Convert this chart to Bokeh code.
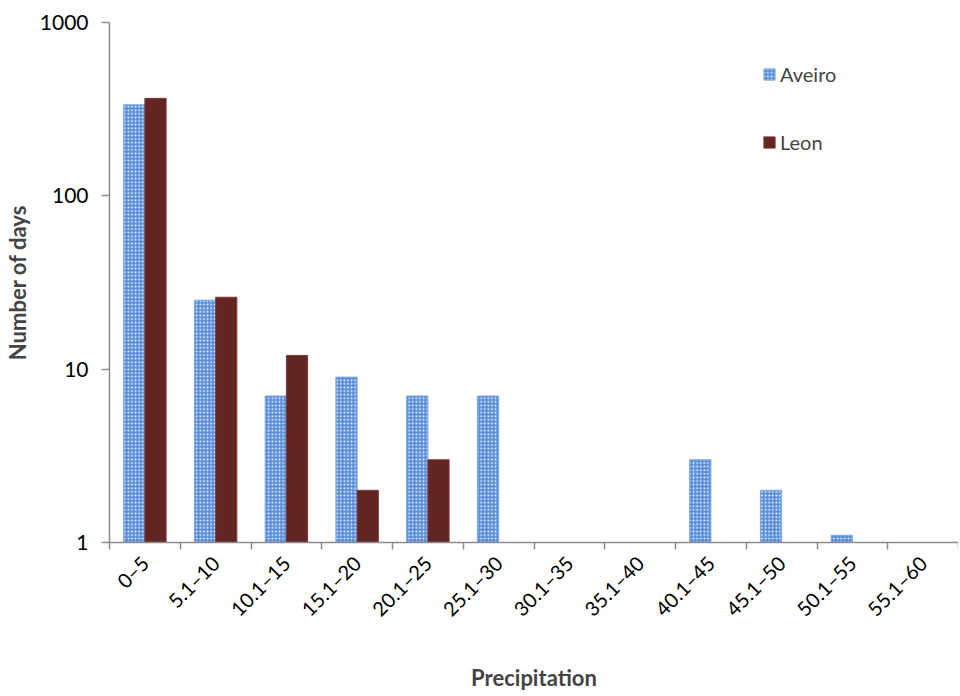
import math
from bokeh.plotting import figure
from bokeh.models import (Range1d, FixedTicker, PrintfTickFormatter, LinearAxis,
                          CustomJSTickFormatter, Legend, LegendItem, ColumnDataSource)
from bokeh.embed import file_html
from bokeh.resources import INLINE

categories = ["0–5", "5.1–10", "10.1–15", "15.1–20", "20.1–25", "25.1–30",
              "30.1–35", "35.1–40", "40.1–45", "45.1–50", "50.1–55", "55.1–60"]
aveiro = [335, 25, 7, 9, 7, 7, float("nan"), float("nan"), 3, 2, 1.1, float("nan")]
leon = [365, 26, 12, 2, 3, float("nan"), float("nan"), float("nan"), float("nan"),
        float("nan"), float("nan"), float("nan")]
y_ticks = [1, 10, 100, 1000]

FONT = "Lato"
AXIS_COLOR = "#8c8c8c"
n = len(categories)
centers = [i + 0.5 for i in range(n)]

src = ColumnDataSource(dict(x1=[c - 0.15 for c in centers], x2=[c + 0.15 for c in centers],
                            aveiro=aveiro, leon=leon))

p = figure(width=958, height=694, x_range=Range1d(0, n),
           y_axis_type="log", y_range=Range1d(1, 1000),
           x_axis_location=None, output_backend="svg", toolbar_location=None)
p.min_border_top = 22
p.min_border_right = 0
p.min_border_left = 109
p.outline_line_color = None
p.grid.visible = False
p.background_fill_color = "white"

r1 = p.vbar(x="x1", top="aveiro", bottom=1, width=0.3,
            source=src, fill_color="#5A8ED9", line_color="#7aa5e3", line_width=1,
            hatch_pattern="dot", hatch_color="white", hatch_scale=3.6, hatch_weight=1.2)
r2 = p.vbar(x="x2", top="leon", bottom=1, width=0.3,
            source=src, fill_color="#632523", line_color="#7a3a38", line_width=1)

# y axis
ya = p.yaxis[0]
ya.ticker = FixedTicker(ticks=y_ticks)
ya.formatter = PrintfTickFormatter(format="%d")
ya.minor_tick_line_color = None
ya.axis_line_color = AXIS_COLOR
ya.axis_line_width = 1.5
ya.major_tick_line_color = AXIS_COLOR
ya.major_tick_line_width = 1.5
ya.major_tick_out = 8
ya.major_tick_in = 0
ya.major_label_standoff = 13
ya.major_label_text_font = FONT
ya.major_label_text_font_size = "21px"
ya.major_label_text_color = "black"
ya.axis_label = "Number of days"
ya.axis_label_text_font = FONT
ya.axis_label_text_font_style = "bold"
ya.axis_label_text_font_size = "22px"
ya.axis_label_standoff = 6

# x tick-mark axis (category boundaries)
tick_axis = LinearAxis(ticker=FixedTicker(ticks=list(range(n + 1))),
                       formatter=CustomJSTickFormatter(code="return ''"),
                       axis_line_color=AXIS_COLOR, axis_line_width=1.5,
                       major_tick_line_color=AXIS_COLOR, major_tick_line_width=1.5,
                       major_tick_out=7, major_tick_in=0, minor_tick_line_color=None,
                       major_label_standoff=0, major_label_text_font_size="1px")
p.add_layout(tick_axis, "below")

lab_axis = LinearAxis(ticker=FixedTicker(ticks=centers),
                      formatter=CustomJSTickFormatter(args=dict(cats=categories),
                                                      code="return cats[Math.floor(tick)]"),
                      axis_line_color=None, major_tick_line_color=None,
                      minor_tick_line_color=None,
                      major_label_orientation=math.pi / 4,
                      major_label_standoff=4,
                      major_label_text_font=FONT, major_label_text_font_size="20px",
                      major_label_text_color="black",
                      axis_label="Precipitation", axis_label_text_font=FONT,
                      axis_label_text_font_style="bold", axis_label_text_font_size="22px",
                      axis_label_standoff=32)
p.add_layout(lab_axis, "below")

legend = Legend(items=[LegendItem(label="Aveiro", renderers=[r1]),
                       LegendItem(label="Leon", renderers=[r2])],
                location=(653, 388), border_line_color=None, background_fill_alpha=0,
                padding=0, margin=0, spacing=44, glyph_height=14, glyph_width=14,
                label_height=20, label_standoff=4,
                label_text_font=FONT, label_text_font_size="20px")
p.add_layout(legend)

open("out.html", "w").write(file_html(p, INLINE))
